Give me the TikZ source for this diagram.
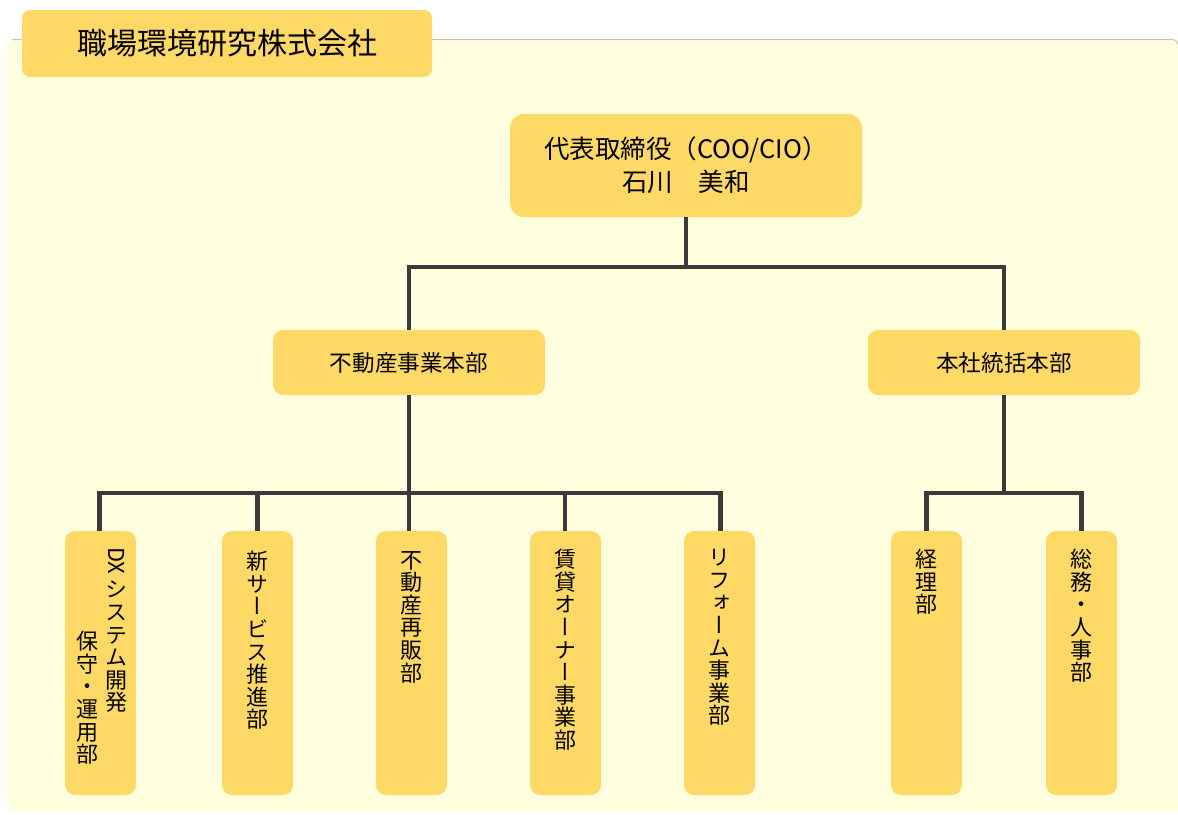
\documentclass[tikz,border=0pt]{standalone}
\usepackage{fontspec}
\setmainfont{Noto Sans CJK JP}
\newfontfamily\vjp[RawFeature=+vert]{Noto Sans CJK JP}
\definecolor{boxc}{RGB}{255,217,102}
\definecolor{bgc}{RGB}{255,255,224}
\definecolor{linec}{RGB}{58,58,58}
\definecolor{panelline}{RGB}{200,195,170}
\begin{document}
\begin{tikzpicture}[x=1pt,y=-1pt,
  box/.style={fill=boxc, rounded corners=10pt, inner sep=0pt, align=center,
    font=\fontsize{22.6}{33}\selectfont},
  vbox/.style={fill=boxc, rounded corners=10pt, inner sep=0pt,
    minimum width=71pt, minimum height=264pt},
  vtext/.style={anchor=north, inner sep=0pt, align=center,
    font=\vjp\fontsize{22}{22.6}\selectfont},
  conn/.style={draw=linec, line width=4.5pt, line join=miter}]
\useasboundingbox (0,0) rectangle (1178,814);
% background panel
\fill[bgc, rounded corners=8pt] (7,39) rectangle (1195,812);
\draw[panelline, line width=1pt] (12,39.5) -- (1172,39.5) to[out=0,in=90] (1178,45);
% title tab
\node[box, minimum width=410pt, minimum height=67pt, rounded corners=8pt,
  font=\fontsize{30}{33}\selectfont] (title) at (227,43.5) {職場環境研究株式会社};
% top node
\node[box, minimum width=352pt, minimum height=103pt, rounded corners=14pt,
  font=\fontsize{25.5}{33}\selectfont] (ceo) at (686,165.5)
  {代表取締役（COO/CIO）\\石川　美和};
% second level
\node[box, minimum width=272pt, minimum height=65pt] (fud) at (409,362.5) {不動産事業本部};
\node[box, minimum width=272pt, minimum height=65pt] (hon) at (1004,362.5) {本社統括本部};
% third level boxes
\node[vbox] (b1) at (100.5,663) {};
\node[vbox] (b2) at (257.5,663) {};
\node[vbox] (b3) at (411.5,663) {};
\node[vbox] (b4) at (565.5,663) {};
\node[vbox] (b5) at (719.5,663) {};
\node[vbox] (b6) at (926.5,663) {};
\node[vbox] (b7) at (1081.5,663) {};
% vertical texts
\node[rotate=-90, anchor=west, inner sep=0pt, font=\fontsize{22}{22}\selectfont] (t1a) at (116.5,547) {DX};
\node[vtext] (t1b) at (116.5,581) {シ\\ス\\テ\\ム\\開\\発};
\node[vtext] (t1c) at (87.5,631) {保\\守\\・\\運\\用\\部};
\node[vtext] (t2) at (257.5,551) {新\\サ\\ー\\ビ\\ス\\推\\進\\部};
\node[vtext] (t3) at (411.5,551) {不\\動\\産\\再\\販\\部};
\node[vtext] (t4) at (565.5,549) {賃\\貸\\オ\\ー\\ナ\\ー\\事\\業\\部};
\node[vtext] (t5) at (719.5,549) {リ\\フ\\ォ\\ー\\ム\\事\\業\\部};
\node[vtext] (t6) at (926.5,549) {経\\理\\部};
\node[vtext] (t7) at (1081.5,549) {総\\務\\・\\人\\事\\部};
% connectors
\coordinate (j1) at (686,267);
\coordinate (j2) at (409,493);
\coordinate (j3) at (1004,493);
\draw[conn] (ceo.south) -- (j1);
\draw[conn] (j1) -| (fud.north);
\draw[conn] (j1) -| (hon.north);
\draw[conn] (fud.south) -- (j2 |- b3.north);
\draw[conn] (j2) -| ([xshift=-1pt]b1.north);
\draw[conn] (j2) -| (b2.north);
\draw[conn] (j2) -| ([xshift=1pt]b5.north);
\draw[conn] (j2) -| ([xshift=-0.5pt]b4.north);
\draw[conn] (hon.south) -- (j3);
\draw[conn] (j3) -| (b6.north);
\draw[conn] (j3) -| (b7.north);
\end{tikzpicture}
\end{document}
